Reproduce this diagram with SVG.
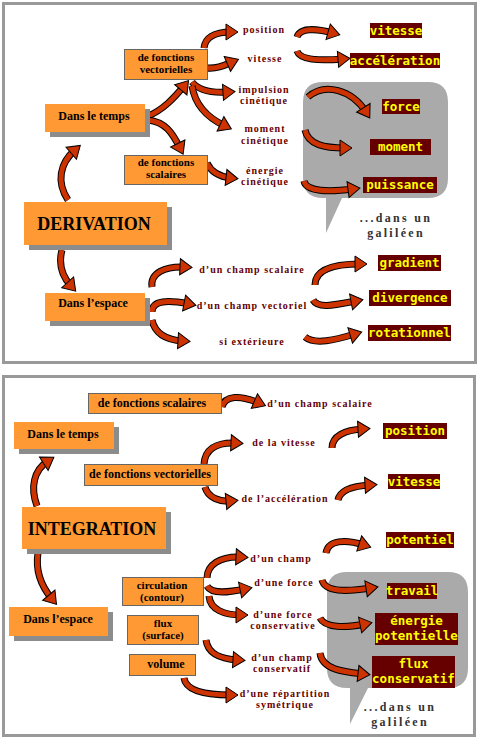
<svg xmlns="http://www.w3.org/2000/svg" xmlns:xlink="http://www.w3.org/1999/xlink" width="480" height="741" viewBox="0 0 480 741">
<defs>
<style>
.frame{fill:#fff;stroke:#999;stroke-width:3}
.callout{fill:#aaa}
.box{fill:#FF9933;stroke:#666;stroke-width:1}
.boxn{fill:#FF9933}
.shadow{fill:#8c8c8c}
.nt{font-family:"Liberation Serif",serif;font-weight:bold;font-size:12px;fill:#000;text-anchor:middle}
.n2{font-size:11px}
.big{font-size:18px}
.lb{font-family:"Liberation Serif",serif;font-weight:bold;font-size:10px;letter-spacing:1px;fill:#660000;text-anchor:middle}
.rb{fill:#660000}
.rt{font-family:"DejaVu Sans Mono",monospace;font-weight:bold;font-size:12.5px;fill:#FFFF00;text-anchor:middle}
.gal{font-family:"Liberation Serif",serif;font-weight:bold;font-size:12px;letter-spacing:2.3px;fill:#333;text-anchor:middle}
.ab{fill:none;stroke:#000;stroke-width:7}
.ar{fill:none;stroke:#CC3300;stroke-width:5;marker-end:url(#ah)}
</style>
<marker id="ah" markerUnits="userSpaceOnUse" viewBox="-2 -10 16 20" markerWidth="16" markerHeight="20" refX="5" refY="0" orient="auto" overflow="visible">
<path d="M0,-8 L12,0 L0,8 Z" fill="#CC3300" stroke="#000" stroke-width="1"/>
</marker>
<path id="a1" d="M68,200 C56,182 60,163 75,150"/>
<path id="a2" d="M62,250 C58,265 62,276 71,286"/>
<path id="a3" d="M148,116 C163,110 174,98 184,86"/>
<path id="a4" d="M148,120 C165,122 172,132 180,148"/>
<path id="a5" d="M204,48 C205,38 214,32 231,32"/>
<path id="a6" d="M207,68 C218,69 225,65 232,62"/>
<path id="a7" d="M192,82 C198,90 212,93 228,92"/>
<path id="a8" d="M192,86 C195,105 208,118 225,126"/>
<path id="a9" d="M207,163 C212,174 222,177 231,178"/>
<path id="a10" d="M297,37 C300,28 315,28 333,33"/>
<path id="a11" d="M297,51 C300,60 318,61 343,59"/>
<path id="a12" d="M308,97 C325,82 352,90 366,112"/>
<path id="a13" d="M305,130 C308,145 325,148 345,148"/>
<path id="a14" d="M304,181 C306,192 330,192 353,189"/>
<path id="a15" d="M152,287 C150,273 165,266 185,267"/>
<path id="a16" d="M152,312 C152,300 168,300 189,304"/>
<path id="a17" d="M152,320 C155,334 166,340 183,341"/>
<path id="a18" d="M315,285 C315,270 332,264 360,264"/>
<path id="a19" d="M313,300 C318,309 335,305 356,301"/>
<path id="a20" d="M305,337 C315,345 335,340 355,334"/>
<path id="b1" d="M37,506 C30,487 34,470 48,461"/>
<path id="b2" d="M38,553 C35,572 42,587 52,599"/>
<path id="b3" d="M222,407 C225,395 240,395 259,403"/>
<path id="b4" d="M204,464 C205,450 215,442 236,443"/>
<path id="b5" d="M205,487 C208,498 220,502 231,501"/>
<path id="b6" d="M332,448 C332,436 345,430 363,429"/>
<path id="b7" d="M338,500 C340,490 352,486 370,485"/>
<path id="b8" d="M207,578 C207,565 220,556 241,557"/>
<path id="b9" d="M207,586 C212,595 230,592 245,589"/>
<path id="b10" d="M209,596 C210,610 225,615 241,615"/>
<path id="b11" d="M206,640 C208,655 222,659 238,660"/>
<path id="b12" d="M184,678 C186,692 210,695 231,695"/>
<path id="b13" d="M326,553 C328,540 345,539 364,545"/>
<path id="b14" d="M322,580 C325,592 345,592 371,588"/>
<path id="b15" d="M320,618 C325,628 345,628 365,624"/>
<path id="b16" d="M320,653 C322,670 345,672 363,674"/>
</defs>

<rect class="frame" x="3.5" y="3.5" width="472" height="359"/>
<rect class="frame" x="3.5" y="376.5" width="471" height="359"/>

<path class="callout" d="M323,82 H428 Q448,82 448,102 V178 Q448,198 428,198 H342 L326,233 L326,198 H323 Q303,198 303,178 V102 Q303,82 323,82 Z"/>
<path class="callout" d="M347,572 H448 Q468,572 468,592 V668 Q468,688 448,688 H368 L350,724 L350,688 H347 Q327,688 327,668 V592 Q327,572 347,572 Z"/>

<g id="connectors">
<use xlink:href="#a1" class="ab"/><use xlink:href="#a1" class="ar"/>
<use xlink:href="#a2" class="ab"/><use xlink:href="#a2" class="ar"/>
<use xlink:href="#a3" class="ab"/><use xlink:href="#a3" class="ar"/>
<use xlink:href="#a4" class="ab"/><use xlink:href="#a4" class="ar"/>
<use xlink:href="#a5" class="ab"/><use xlink:href="#a5" class="ar"/>
<use xlink:href="#a6" class="ab"/><use xlink:href="#a6" class="ar"/>
<use xlink:href="#a7" class="ab"/><use xlink:href="#a7" class="ar"/>
<use xlink:href="#a8" class="ab"/><use xlink:href="#a8" class="ar"/>
<use xlink:href="#a9" class="ab"/><use xlink:href="#a9" class="ar"/>
<use xlink:href="#a10" class="ab"/><use xlink:href="#a10" class="ar"/>
<use xlink:href="#a11" class="ab"/><use xlink:href="#a11" class="ar"/>
<use xlink:href="#a12" class="ab"/><use xlink:href="#a12" class="ar"/>
<use xlink:href="#a13" class="ab"/><use xlink:href="#a13" class="ar"/>
<use xlink:href="#a14" class="ab"/><use xlink:href="#a14" class="ar"/>
<use xlink:href="#a15" class="ab"/><use xlink:href="#a15" class="ar"/>
<use xlink:href="#a16" class="ab"/><use xlink:href="#a16" class="ar"/>
<use xlink:href="#a17" class="ab"/><use xlink:href="#a17" class="ar"/>
<use xlink:href="#a18" class="ab"/><use xlink:href="#a18" class="ar"/>
<use xlink:href="#a19" class="ab"/><use xlink:href="#a19" class="ar"/>
<use xlink:href="#a20" class="ab"/><use xlink:href="#a20" class="ar"/>
<use xlink:href="#b1" class="ab"/><use xlink:href="#b1" class="ar"/>
<use xlink:href="#b2" class="ab"/><use xlink:href="#b2" class="ar"/>
<use xlink:href="#b3" class="ab"/><use xlink:href="#b3" class="ar"/>
<use xlink:href="#b4" class="ab"/><use xlink:href="#b4" class="ar"/>
<use xlink:href="#b5" class="ab"/><use xlink:href="#b5" class="ar"/>
<use xlink:href="#b6" class="ab"/><use xlink:href="#b6" class="ar"/>
<use xlink:href="#b7" class="ab"/><use xlink:href="#b7" class="ar"/>
<use xlink:href="#b8" class="ab"/><use xlink:href="#b8" class="ar"/>
<use xlink:href="#b9" class="ab"/><use xlink:href="#b9" class="ar"/>
<use xlink:href="#b10" class="ab"/><use xlink:href="#b10" class="ar"/>
<use xlink:href="#b11" class="ab"/><use xlink:href="#b11" class="ar"/>
<use xlink:href="#b12" class="ab"/><use xlink:href="#b12" class="ar"/>
<use xlink:href="#b13" class="ab"/><use xlink:href="#b13" class="ar"/>
<use xlink:href="#b14" class="ab"/><use xlink:href="#b14" class="ar"/>
<use xlink:href="#b15" class="ab"/><use xlink:href="#b15" class="ar"/>
<use xlink:href="#b16" class="ab"/><use xlink:href="#b16" class="ar"/>
</g>

<!-- top panel nodes -->
<g id="t-vect"><rect class="box" x="124.5" y="49.5" width="83" height="30"/><text class="nt n2" x="166" y="61">de fonctions</text><text class="nt n2" x="166" y="73">vectorielles</text></g>
<g id="t-temps"><rect class="shadow" x="50" y="109" width="100" height="28"/><rect class="boxn" x="45" y="104" width="100" height="28"/><text class="nt" x="94" y="120">Dans le temps</text></g>
<g id="t-scal"><rect class="box" x="124.5" y="155.5" width="83" height="29"/><text class="nt n2" x="166" y="166">de fonctions</text><text class="nt n2" x="166" y="178">scalaires</text></g>
<g id="t-deriv"><rect class="shadow" x="29" y="207" width="143" height="43"/><rect class="boxn" x="24" y="202" width="143" height="43"/><text class="nt big" x="94" y="230">DERIVATION</text></g>
<g id="t-espace"><rect class="shadow" x="50" y="298" width="100" height="28"/><rect class="boxn" x="45" y="293" width="100" height="28"/><text class="nt" x="93" y="307">Dans l’espace</text></g>

<g id="t-l-position"><text class="lb" x="264" y="33">position</text></g>
<g id="t-l-vitesse"><text class="lb" x="265" y="62">vitesse</text></g>
<g id="t-l-impulsion"><text class="lb" x="264" y="93">impulsion</text><text class="lb" x="264" y="104">cinétique</text></g>
<g id="t-l-moment"><text class="lb" x="265" y="132">moment</text><text class="lb" x="265" y="144">cinétique</text></g>
<g id="t-l-energie"><text class="lb" x="265" y="174">énergie</text><text class="lb" x="265" y="185">cinétique</text></g>
<g id="t-l-cs"><text class="lb" x="252" y="273">d’un champ scalaire</text></g>
<g id="t-l-cv"><text class="lb" x="252" y="309">d’un champ vectoriel</text></g>
<g id="t-l-si"><text class="lb" x="252" y="345">si extérieure</text></g>

<g id="t-r-vitesse"><rect class="rb" x="370" y="23" width="52" height="15"/><text class="rt" x="396" y="35">vitesse</text></g>
<g id="t-r-acc"><rect class="rb" x="350" y="53" width="90" height="15"/><text class="rt" x="395" y="65">accélération</text></g>
<g id="t-r-force"><rect class="rb" x="382" y="99" width="38" height="15"/><text class="rt" x="401" y="111">force</text></g>
<g id="t-r-moment"><rect class="rb" x="370" y="139" width="61" height="16"/><text class="rt" x="400.5" y="151">moment</text></g>
<g id="t-r-puiss"><rect class="rb" x="363" y="177" width="74" height="16"/><text class="rt" x="400" y="189">puissance</text></g>
<g id="t-r-grad"><rect class="rb" x="378" y="255" width="63" height="16"/><text class="rt" x="409.5" y="267">gradient</text></g>
<g id="t-r-div"><rect class="rb" x="369" y="290" width="82" height="16"/><text class="rt" x="410" y="302">divergence</text></g>
<g id="t-r-rot"><rect class="rb" x="368" y="325" width="83" height="16"/><text class="rt" x="409.5" y="337">rotationnel</text></g>
<g id="t-gal"><text class="gal" x="396" y="222">...dans un</text><text class="gal" x="396" y="237">galiléen</text></g>

<!-- bottom panel nodes -->
<g id="b-scal"><rect class="box" x="88.5" y="393.5" width="133" height="20"/><text class="nt" x="152" y="407">de fonctions scalaires</text></g>
<g id="b-temps"><rect class="shadow" x="19" y="427" width="100" height="27"/><rect class="boxn" x="14" y="422" width="100" height="27"/><text class="nt" x="63" y="438">Dans le temps</text></g>
<g id="b-vect"><rect class="box" x="84.5" y="464.5" width="133" height="21"/><text class="nt" x="150" y="478">de fonctions vectorielles</text></g>
<g id="b-integ"><rect class="shadow" x="27" y="512" width="144" height="42"/><rect class="boxn" x="22" y="507" width="144" height="42"/><text class="nt big" x="92" y="535">INTEGRATION</text></g>
<g id="b-espace"><rect class="shadow" x="14" y="612" width="99" height="29"/><rect class="boxn" x="9" y="607" width="99" height="29"/><text class="nt" x="58" y="623">Dans l’espace</text></g>
<g id="b-circ"><rect class="box" x="122.5" y="577.5" width="81" height="28"/><text class="nt n2" x="162" y="589">circulation</text><text class="nt n2" x="162" y="601">(contour)</text></g>
<g id="b-flux"><rect class="box" x="127.5" y="615.5" width="71" height="29"/><text class="nt n2" x="163" y="627">flux</text><text class="nt n2" x="163" y="639">(surface)</text></g>
<g id="b-vol"><rect class="box" x="129.5" y="654.5" width="66" height="21"/><text class="nt" x="166" y="668">volume</text></g>

<g id="b-l-cs"><text class="lb" x="320" y="407">d’un champ scalaire</text></g>
<g id="b-l-vit"><text class="lb" x="284" y="446">de la vitesse</text></g>
<g id="b-l-acc"><text class="lb" x="285" y="502">de l’accélération</text></g>
<g id="b-l-champ"><text class="lb" x="281" y="562">d’un champ</text></g>
<g id="b-l-force"><text class="lb" x="284" y="586">d’une force</text></g>
<g id="b-l-fc"><text class="lb" x="283" y="618">d’une force</text><text class="lb" x="283" y="629">conservative</text></g>
<g id="b-l-cc"><text class="lb" x="282" y="661">d’un champ</text><text class="lb" x="282" y="672">conservatif</text></g>
<g id="b-l-rep"><text class="lb" x="285" y="697">d’une répartition</text><text class="lb" x="285" y="708">symétrique</text></g>

<g id="b-r-pos"><rect class="rb" x="383" y="423" width="64" height="16"/><text class="rt" x="415" y="435">position</text></g>
<g id="b-r-vit"><rect class="rb" x="388" y="474" width="52" height="15"/><text class="rt" x="414" y="486">vitesse</text></g>
<g id="b-r-pot"><rect class="rb" x="386" y="532" width="68" height="16"/><text class="rt" x="420" y="544">potentiel</text></g>
<g id="b-r-trav"><rect class="rb" x="387" y="583" width="50" height="16"/><text class="rt" x="412" y="595">travail</text></g>
<g id="b-r-ep"><rect class="rb" x="375" y="613" width="83" height="32"/><text class="rt" x="416.5" y="625">énergie</text><text class="rt" x="416.5" y="640">potentielle</text></g>
<g id="b-r-fc"><rect class="rb" x="372" y="656" width="83" height="32"/><text class="rt" x="413.5" y="668">flux</text><text class="rt" x="413.5" y="683">conservatif</text></g>
<g id="b-gal"><text class="gal" x="400" y="711">...dans un</text><text class="gal" x="400" y="726">galiléen</text></g>
</svg>
